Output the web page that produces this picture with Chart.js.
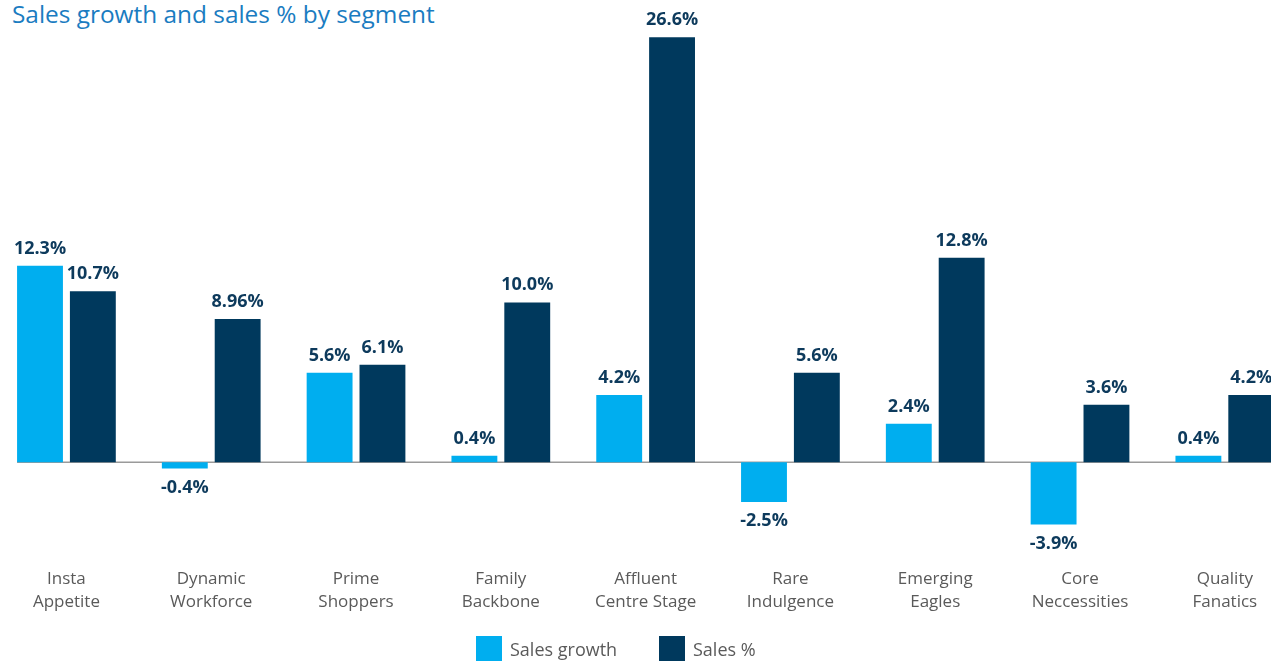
<!DOCTYPE html>
<html>
<head>
<meta charset="utf-8">
<script src="https://cdn.jsdelivr.net/npm/chart.js@4/dist/chart.umd.min.js"></script>
<style>
  html, body { margin: 0; padding: 0; background: #fff; overflow: hidden; }
  body { width: 1271px; height: 661px; position: relative; font-family: "Open Sans", sans-serif; }
  #title { position: absolute; left: 12px; top: -3px; font-size: 24.4px; color: #1a7cc1; white-space: nowrap; }
  #wrap { position: absolute; left: -9.4px; top: 0; width: 1308px; height: 661px; }
  .legend { position: absolute; top: 636px; height: 26px; display: flex; align-items: center; font-size: 18px; color: #5a5a5a; }
  .legend span.box { width: 26px; height: 26px; display: inline-block; margin-right: 8px; }
</style>
</head>
<body>
<div id="title">Sales growth and sales % by segment</div>
<div id="wrap"><canvas id="chart"></canvas></div>
<div class="legend" style="left:476px"><span class="box" style="background:#00aeef"></span>Sales growth</div>
<div class="legend" style="left:659px"><span class="box" style="background:#00395d"></span>Sales %</div>
<script>
const segments = [
  ['Insta', 'Appetite'], ['Dynamic', 'Workforce'], ['Prime', 'Shoppers'],
  ['Family', 'Backbone'], ['Affluent', 'Centre Stage'], ['Rare', 'Indulgence'],
  ['Emerging', 'Eagles'], ['Core', 'Neccessities'], ['Quality', 'Fanatics']
];
const salesGrowth = [12.3, -0.4, 5.6, 0.4, 4.2, -2.5, 2.4, -3.9, 0.4];
const salesPct = [10.7, 8.96, 6.1, 10.0, 26.6, 5.6, 12.8, 3.6, 4.2];
const growthLabels = ['12.3%', '-0.4%', '5.6%', '0.4%', '4.2%', '-2.5%', '2.4%', '-3.9%', '0.4%'];
const pctLabels = ['10.7%', '8.96%', '6.1%', '10.0%', '26.6%', '5.6%', '12.8%', '3.6%', '4.2%'];

const LIGHT = '#00aeef';
const DARK = '#00395d';

// value labels above / below each bar
const valueLabels = {
  id: 'valueLabels',
  afterDatasetsDraw(chart) {
    const ctx = chart.ctx;
    const texts = [growthLabels, pctLabels];
    ctx.save();
    ctx.font = 'bold 18px "Open Sans", sans-serif';
    ctx.fillStyle = '#0d3a5c';
    ctx.textAlign = 'center';
    chart.data.datasets.forEach((ds, di) => {
      chart.getDatasetMeta(di).data.forEach((bar, i) => {
        if (ds.data[i] >= 0) {
          ctx.textBaseline = 'alphabetic';
          ctx.fillText(texts[di][i], bar.x, bar.y - 12);
        } else {
          ctx.textBaseline = 'top';
          ctx.fillText(texts[di][i], bar.x, bar.y + 10);
        }
      });
    });
    ctx.restore();
  }
};

// zero line starting at the first bar
const zeroLine = {
  id: 'zeroLine',
  beforeDatasetsDraw(chart) {
    const ctx = chart.ctx;
    const y = chart.scales.y.getPixelForValue(0);
    const first = chart.getDatasetMeta(0).data[0];
    const x0 = first.x - first.width / 2;
    ctx.save();
    ctx.strokeStyle = '#9a9a9a';
    ctx.lineWidth = 1.5;
    ctx.beginPath();
    ctx.moveTo(x0, y);
    ctx.lineTo(chart.width, y);
    ctx.stroke();
    ctx.restore();
  }
};

new Chart(document.getElementById('chart'), {
  type: 'bar',
  data: {
    labels: segments,
    datasets: [
      { label: 'Sales growth', data: salesGrowth, backgroundColor: LIGHT },
      { label: 'Sales %', data: salesPct, backgroundColor: DARK }
    ]
  },
  options: {
    responsive: true,
    maintainAspectRatio: false,
    animation: false,
    categoryPercentage: 0.73,
    barPercentage: 0.868,
    layout: { padding: { top: 15, bottom: 5, left: 0, right: 0 } },
    scales: {
      y: { display: false, min: -4, max: 28 },
      x: {
        grid: { display: false, drawTicks: false },
        border: { display: false },
        ticks: {
          padding: 42,
          color: '#5a5a5a',
          maxRotation: 0,
          autoSkip: false,
          font: { family: '"Open Sans", sans-serif', size: 17, lineHeight: '23px' }
        }
      }
    },
    plugins: {
      legend: { display: false },
      tooltip: { enabled: false }
    }
  },
  plugins: [zeroLine, valueLabels]
});
</script>
</body>
</html>
